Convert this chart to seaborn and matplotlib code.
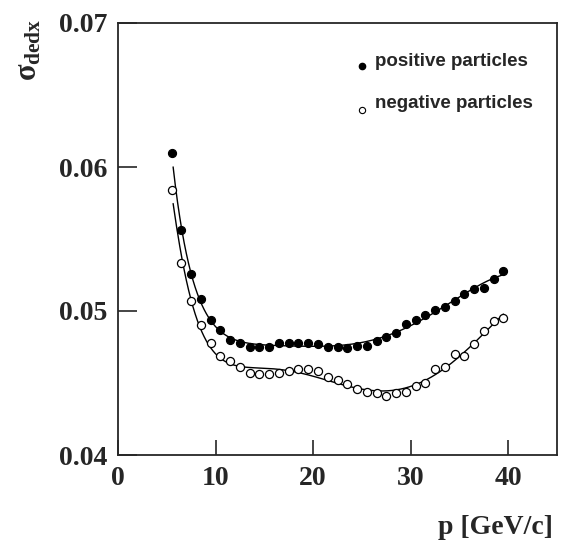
import numpy as np
import pandas as pd
import matplotlib
matplotlib.use("Agg")
import matplotlib.pyplot as plt
import seaborn as sns

# ---- data ----
p_values = [5.5, 6.5, 7.5, 8.5, 9.5, 10.5, 11.5, 12.5, 13.5, 14.5, 15.5, 16.5,
            17.5, 18.5, 19.5, 20.5, 21.5, 22.5, 23.5, 24.5, 25.5, 26.5, 27.5,
            28.5, 29.5, 30.5, 31.5, 32.5, 33.5, 34.5, 35.5, 36.5, 37.5, 38.5, 39.5]
sigma_positive = [0.0610, 0.0556, 0.0526, 0.0508, 0.0494, 0.0487, 0.0480, 0.0478,
                  0.0475, 0.0475, 0.0475, 0.0478, 0.0478, 0.0478, 0.0478, 0.0477,
                  0.0475, 0.0475, 0.0474, 0.0476, 0.0476, 0.0479, 0.0482, 0.0485,
                  0.0491, 0.0494, 0.0497, 0.0501, 0.0503, 0.0507, 0.0512, 0.0515,
                  0.0516, 0.0522, 0.0528]
sigma_negative = [0.0584, 0.0533, 0.0507, 0.0490, 0.0478, 0.0469, 0.0465, 0.0461,
                  0.0457, 0.0456, 0.0456, 0.0457, 0.0458, 0.0460, 0.0460, 0.0458,
                  0.0454, 0.0452, 0.0449, 0.0446, 0.0444, 0.0443, 0.0441, 0.0443,
                  0.0444, 0.0448, 0.0450, 0.0460, 0.0461, 0.0470, 0.0469, 0.0477,
                  0.0486, 0.0493, 0.0495]
x_ticks = [0, 10, 20, 30, 40]
y_ticks = [0.04, 0.05, 0.06, 0.07]
y_tick_labels = ["0.04", "0.05", "0.06", "0.07"]
legend_labels = ["positive particles", "negative particles"]

df = pd.DataFrame({"p": p_values, "pos": sigma_positive, "neg": sigma_negative})


def fit_curve(x, y, xs):
    x = np.asarray(x)
    def basis(v):
        return np.column_stack([v ** -2, v ** -1, np.ones_like(v), v, v ** 2, v ** 3, v ** 4])
    coef, *_ = np.linalg.lstsq(basis(x), np.asarray(y), rcond=None)
    return basis(xs) @ coef


xs = np.linspace(5.65, 39.5, 300)
fit_df = pd.DataFrame({
    "p": xs,
    "pos": fit_curve(p_values, sigma_positive, xs),
    "neg": fit_curve(p_values, sigma_negative, xs),
})

# ---- style ----
sns.set_style("ticks")
plt.rcParams["font.family"] = ["Liberation Serif", "DejaVu Serif"]
plt.rcParams["mathtext.fontset"] = "custom"
plt.rcParams["mathtext.rm"] = "Liberation Serif:bold"
plt.rcParams["mathtext.it"] = "Liberation Serif:bold"
plt.rcParams["mathtext.bf"] = "Liberation Serif:bold"

fig = plt.figure(figsize=(5.61, 5.43), dpi=100)
ax = fig.add_axes([118 / 561, 88 / 543, 439 / 561, 432 / 543])

sns.lineplot(data=fit_df, x="p", y="pos", ax=ax, color="black", lw=1.0)
sns.lineplot(data=fit_df, x="p", y="neg", ax=ax, color="black", lw=1.0)
sns.scatterplot(data=df, x="p", y="pos", ax=ax, s=34, color="black",
                edgecolor="black", linewidth=0.8, zorder=3)
sns.scatterplot(data=df, x="p", y="neg", ax=ax, s=34, facecolor="white",
                edgecolor="black", linewidth=0.9, zorder=3)

ax.set_xlim(0, 45)
ax.set_ylim(0.04, 0.07)
ax.set_xticks(x_ticks)
ax.set_yticks(y_ticks)
ax.set_yticklabels(y_tick_labels)
ax.tick_params(direction="in", length=11, width=1.2, labelsize=20, pad=8)
ax.tick_params(axis="y", length=14)
for lab in ax.get_xticklabels() + ax.get_yticklabels():
    lab.set_fontweight("bold")
for s in ax.spines.values():
    s.set_visible(True)
    s.set_linewidth(1.3)
ax.set_xlabel("")
ax.set_ylabel("")

# legend (drawn manually)
ax.plot([0.556], [0.900], transform=ax.transAxes, marker="o", ms=4.5,
        color="black", mfc="black", ls="none", clip_on=False)
ax.plot([0.556], [0.799], transform=ax.transAxes, marker="o", ms=4.5,
        color="black", mfc="white", mew=0.8, ls="none", clip_on=False)
ax.text(0.585, 0.912, legend_labels[0], transform=ax.transAxes,
        family=["Liberation Sans", "DejaVu Sans"], fontweight="bold",
        fontsize=13.5, va="center", ha="left")
ax.text(0.585, 0.8125, legend_labels[1], transform=ax.transAxes,
        family=["Liberation Sans", "DejaVu Sans"], fontweight="bold",
        fontsize=13.5, va="center", ha="left")

fig.text(553 / 561, 1 - 528 / 543, "p [GeV/c]", ha="right", va="center",
         fontsize=20, fontweight="bold")
fig.text(29 / 561, 1 - 50 / 543, r"$\sigma_{dedx}$", rotation=90,
         ha="center", va="center", fontsize=22)

fig.savefig("out.png", dpi=100)
